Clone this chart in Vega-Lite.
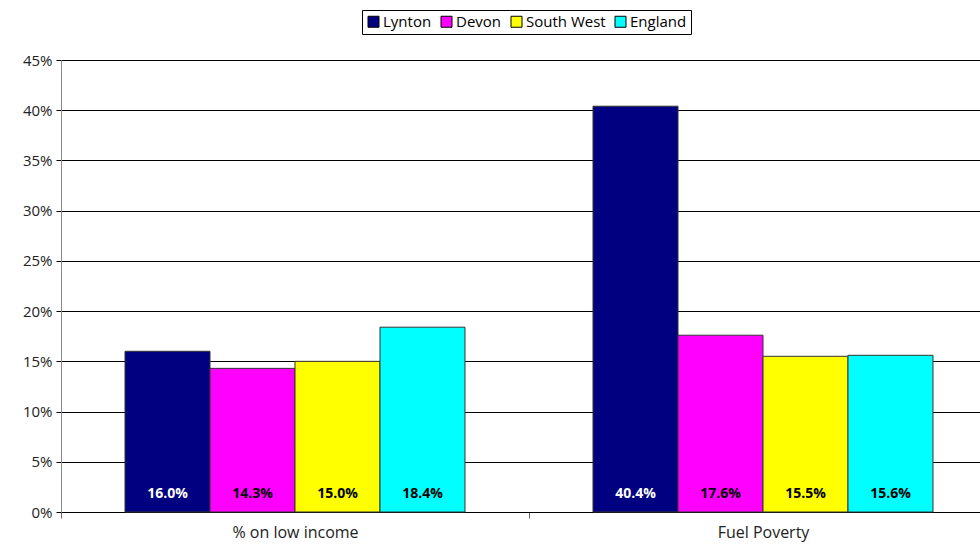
{
  "$schema": "https://vega.github.io/schema/vega-lite/v6.json",
  "autosize": "none",
  "padding": {"left": 61, "top": 60, "right": 0, "bottom": 32},
  "width": 936,
  "height": 452,
  "background": "white",
  "config": {
    "font": "Open Sans",
    "view": {"stroke": null},
    "axis": {"labelFont": "Open Sans", "labelColor": "#222"}
  },
  "data": {
    "values": [
      {"category": "% on low income", "region": "Lynton", "value": 0.160},
      {"category": "% on low income", "region": "Devon", "value": 0.143},
      {"category": "% on low income", "region": "South West", "value": 0.150},
      {"category": "% on low income", "region": "England", "value": 0.184},
      {"category": "Fuel Poverty", "region": "Lynton", "value": 0.404},
      {"category": "Fuel Poverty", "region": "Devon", "value": 0.176},
      {"category": "Fuel Poverty", "region": "South West", "value": 0.155},
      {"category": "Fuel Poverty", "region": "England", "value": 0.156}
    ]
  },
  "encoding": {
    "x": {
      "field": "category", "type": "nominal", "sort": null,
      "scale": {"paddingInner": 0, "paddingOuter": 0},
      "axis": {"title": null, "labelAngle": 0, "tickBand": "extent", "domainColor": "black", "tickColor": "#666", "tickSize": 6, "labelPadding": 6, "labelFontSize": 16, "labelColor": "#222"}
    },
    "xOffset": {
      "field": "region", "type": "nominal",
      "sort": ["Lynton", "Devon", "South West", "England"],
      "scale": {"paddingInner": 0, "paddingOuter": 0.753}
    }
  },
  "layer": [
    {
      "mark": {"type": "bar", "stroke": "#333", "strokeWidth": 1},
      "encoding": {
        "y": {
          "field": "value", "type": "quantitative",
          "scale": {"domain": [0, 0.45]},
          "axis": {
            "title": null, "format": ".0%",
            "values": [0, 0.05, 0.1, 0.15, 0.2, 0.25, 0.3, 0.35, 0.4, 0.45],
            "gridColor": "black", "gridOpacity": 1, "domainColor": "#888",
            "tickColor": "black", "tickSize": 5, "labelPadding": 4, "labelFontSize": 15
          }
        },
        "color": {
          "field": "region", "type": "nominal",
          "sort": ["Lynton", "Devon", "South West", "England"],
          "scale": {"domain": ["Lynton", "Devon", "South West", "England"], "range": ["#000080", "#FF00FF", "#FFFF00", "#00FFFF"]},
          "legend": {
            "title": null, "orient": "none", "legendX": 301, "legendY": -50,
            "direction": "horizontal", "columns": 4,
            "symbolType": "square", "symbolSize": 121, "symbolStrokeColor": "black", "symbolStrokeWidth": 1,
            "symbolOpacity": 1,
            "labelFont": "Open Sans", "labelFontSize": 15, "labelColor": "black", "labelOffset": 2,
            "columnPadding": 7, "strokeColor": "black", "padding": 4, "fillColor": "white"
          }
        }
      }
    },
    {
      "mark": {"type": "text", "fontWeight": "bold", "fontSize": 14, "dy": -18, "baseline": "middle"},
      "encoding": {
        "y": {"datum": 0, "type": "quantitative"},
        "text": {"field": "value", "type": "quantitative", "format": ".1%"},
        "color": {"condition": {"test": "datum.region === 'Lynton'", "value": "white"}, "value": "black"}
      }
    }
  ]
}
